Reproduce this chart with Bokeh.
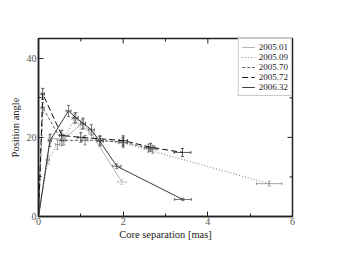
from bokeh.plotting import figure
from bokeh.models import ColumnDataSource, Whisker, TeeHead, Range1d, Legend, LegendItem, FixedTicker
from bokeh.embed import file_html
from bokeh.resources import INLINE

# ---- data ----
epochs = ["2005.01", "2005.09", "2005.70", "2005.72", "2006.32"]

x_2005_01 = [0.0, 0.28, 0.58, 1.0, 1.25, 1.97]
y_2005_01 = [0.0, 19.8, 19.5, 23.2, 21.0, 8.7]
xe_2005_01 = [0.0, 0.05, 0.06, 0.06, 0.07, 0.1]
ye_2005_01 = [0.0, 1.2, 1.2, 1.2, 1.2, 0.6]

x_2005_09 = [0.0, 0.22, 0.45, 0.6, 0.85, 1.05, 1.45, 2.0, 5.45]
y_2005_09 = [0.0, 14.3, 18.2, 19.3, 24.8, 23.3, 19.2, 18.6, 8.3]
xe_2005_09 = [0.0, 0.04, 0.05, 0.05, 0.06, 0.06, 0.07, 0.1, 0.3]
ye_2005_09 = [0.0, 1.0, 1.2, 1.2, 1.3, 1.3, 1.2, 1.2, 0.6]

x_2005_70 = [0.0, 0.1, 0.55, 1.1, 1.45, 2.0, 2.6, 2.7]
y_2005_70 = [0.0, 27.5, 19.2, 19.3, 19.2, 18.8, 17.3, 17.0]
xe_2005_70 = [0.0, 0.04, 0.05, 0.07, 0.08, 0.1, 0.1, 0.1]
ye_2005_70 = [0.0, 1.3, 1.3, 1.2, 1.2, 1.2, 1.0, 1.0]

x_2005_72 = [0.0, 0.1, 0.55, 1.0, 2.0, 2.65, 3.4]
y_2005_72 = [0.0, 31.0, 20.5, 20.0, 19.2, 17.5, 16.2]
xe_2005_72 = [0.0, 0.04, 0.05, 0.07, 0.1, 0.1, 0.2]
ye_2005_72 = [0.0, 1.4, 1.3, 1.2, 1.2, 1.0, 1.0]

x_2006_32 = [0.0, 0.27, 0.71, 0.88, 1.05, 1.25, 1.45, 1.85, 3.41]
y_2006_32 = [0.0, 19.2, 26.7, 25.0, 23.6, 21.9, 19.0, 12.7, 4.3]
xe_2006_32 = [0.0, 0.04, 0.06, 0.06, 0.06, 0.07, 0.08, 0.1, 0.2]
ye_2006_32 = [0.0, 1.5, 1.4, 1.3, 1.3, 1.3, 1.2, 0.6, 0.3]

x_ticks = [0, 2, 4, 6]
x_minor = [1, 3, 5]
y_ticks = [0, 20, 40]
y_minor = [10, 30]

series = [
    (epochs[0], x_2005_01, y_2005_01, xe_2005_01, ye_2005_01, "#b4b4b4", "solid"),
    (epochs[1], x_2005_09, y_2005_09, xe_2005_09, ye_2005_09, "#7a7a7a", "1 2"),
    (epochs[2], x_2005_70, y_2005_70, xe_2005_70, ye_2005_70, "#5a5a5a", "3 2"),
    (epochs[3], x_2005_72, y_2005_72, xe_2005_72, ye_2005_72, "#111111", "6 3"),
    (epochs[4], x_2006_32, y_2006_32, xe_2006_32, ye_2006_32, "#3a3a3a", "solid"),
]

FONT = "Liberation Serif"
XMAX, YMAX = 6, 45
W, H = 331, 254
BL, BR, BT, BB = 38, 39, 38, 38

p = figure(width=W, height=H, output_backend="svg", toolbar_location=None,
           x_range=Range1d(0, XMAX), y_range=Range1d(0, YMAX),
           min_border_left=BL, min_border_right=BR, min_border_top=BT, min_border_bottom=BB)
p.grid.visible = False
p.outline_line_color = "#222222"
p.outline_line_width = 1.5
p.background_fill_color = "white"
p.border_fill_color = "white"

items = []
for name, xs, ys, xe, ye, col, dash in series:
    src = ColumnDataSource(dict(x=xs, y=ys,
                                xl=[a - b for a, b in zip(xs, xe)], xu=[a + b for a, b in zip(xs, xe)],
                                yl=[a - b for a, b in zip(ys, ye)], yu=[a + b for a, b in zip(ys, ye)]))
    r = p.line("x", "y", source=src, line_color=col, line_width=1.0, line_dash=dash)
    items.append(LegendItem(label=name, renderers=[r]))
    for base, lo, up, dim in (("x", "yl", "yu", "height"), ("y", "xl", "xu", "width")):
        p.add_layout(Whisker(source=src, base=base, lower=lo, upper=up, dimension=dim,
                             line_color=col, line_width=0.7,
                             upper_head=TeeHead(size=3, line_color=col, line_width=0.7),
                             lower_head=TeeHead(size=3, line_color=col, line_width=0.7)))

for ax in (p.xaxis[0], p.yaxis[0]):
    ax.major_tick_in = 5
    ax.major_tick_out = 0
    ax.minor_tick_in = 3
    ax.minor_tick_out = 0
    ax.axis_line_color = "#222222"
    ax.axis_line_width = 1.5
    ax.major_tick_line_color = "#222222"
    ax.minor_tick_line_color = "#222222"
    ax.major_label_text_font = FONT
    ax.major_label_text_font_size = "10px"
    ax.major_label_text_color = "#555555"
    ax.axis_label_text_font = FONT
    ax.axis_label_text_font_size = "10.5px"
    ax.axis_label_text_font_style = "normal"
    ax.axis_label_text_color = "#222222"

p.xaxis[0].ticker = FixedTicker(ticks=x_ticks, minor_ticks=x_minor)
p.yaxis[0].ticker = FixedTicker(ticks=y_ticks, minor_ticks=y_minor)
p.xaxis[0].axis_label = "Core separation [mas]"
p.yaxis[0].axis_label = "Position angle"
p.xaxis[0].axis_label_standoff = 1
p.yaxis[0].axis_label_standoff = 3
p.xaxis[0].major_label_standoff = 1
p.yaxis[0].major_label_standoff = 2

# mirrored inward ticks on top and right edges (pixel lengths converted to data units)
frame_w, frame_h = W - BL - BR, H - BT - BB
dy_major, dy_minor = 5 * YMAX / frame_h, 3 * YMAX / frame_h
dx_major, dx_minor = 5 * XMAX / frame_w, 3 * XMAX / frame_w
tx = x_ticks + x_minor
p.segment(x0=tx, x1=tx, y0=[YMAX] * len(tx),
          y1=[YMAX - dy_major] * len(x_ticks) + [YMAX - dy_minor] * len(x_minor),
          line_color="#222222", line_width=1)
ty = y_ticks + y_minor
p.segment(x0=[XMAX] * len(ty),
          x1=[XMAX - dx_major] * len(y_ticks) + [XMAX - dx_minor] * len(y_minor),
          y0=ty, y1=ty, line_color="#222222", line_width=1)

legend = Legend(items=items, location="top_right",
                label_text_font=FONT, label_text_font_size="9px", label_text_color="#222222",
                label_height=8, glyph_height=8, glyph_width=13,
                spacing=0, padding=3, margin=0,
                border_line_color="#999999", border_line_width=1.5,
                background_fill_alpha=1.0, label_standoff=4)
p.add_layout(legend)

open("out.html", "w").write(file_html(p, INLINE))
